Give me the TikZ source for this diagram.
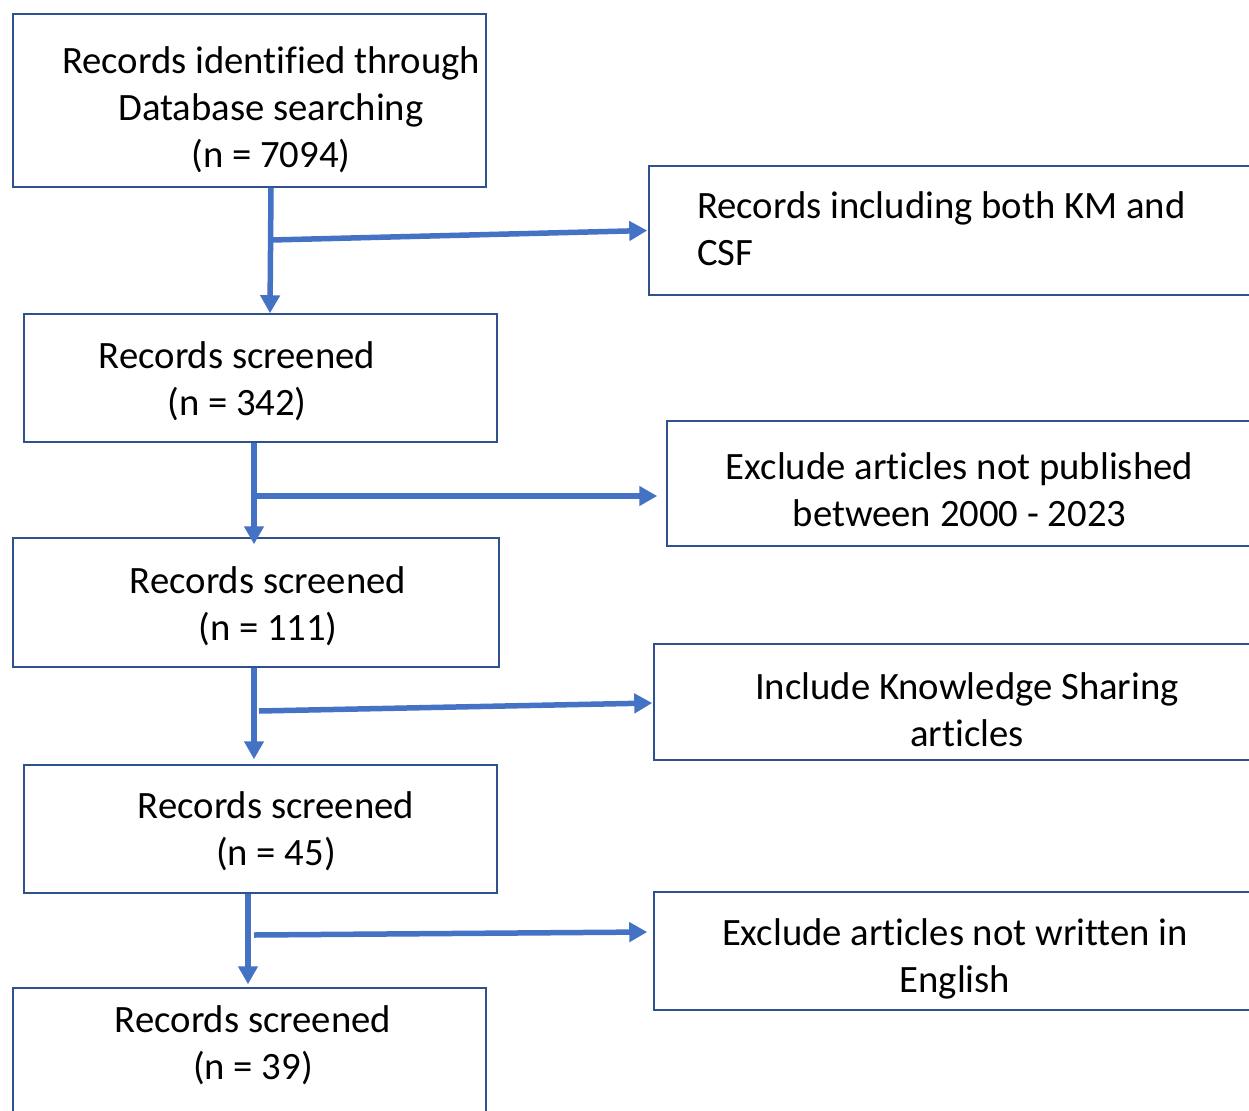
\documentclass[tikz,border=0pt]{standalone}
\usepackage{fontspec}
\setmainfont[Ligatures=CommonOff]{Carlito}
\usetikzlibrary{arrows.meta}
\definecolor{boxblue}{RGB}{47,82,143}
\definecolor{flowblue}{RGB}{68,114,196}
\tikzset{
  bx/.style={draw=boxblue, line width=1.5pt, inner sep=0pt},
  tx/.style={align=center, inner sep=0pt, font=\fontsize{38.7}{47}\selectfont},
  fa/.style={-{Triangle[length=18pt, width=19pt]}, flowblue, line width=5.5pt}
}
\begin{document}
\begin{tikzpicture}[x=1pt, y=-1pt]
  \clip (0,0) rectangle (1249,1110);
  % left column
  \node[bx, minimum width=473, minimum height=173] (ident) at (249.5,100.5) {};
  \node[bx, minimum width=473, minimum height=128] (scr1) at (260.5,378) {};
  \node[bx, minimum width=486, minimum height=129] (scr2) at (256,602.5) {};
  \node[bx, minimum width=473, minimum height=128] (scr3) at (260.5,829) {};
  \node[bx, minimum width=473, minimum height=152] (scr4) at (249.5,1064) {};
  % right column
  \node[bx, minimum width=651, minimum height=129] (r1) at (974.5,230.5) {};
  \node[bx, minimum width=633, minimum height=125] (r2) at (983.5,483.5) {};
  \node[bx, minimum width=646, minimum height=116] (r3) at (977,702) {};
  \node[bx, minimum width=646, minimum height=118] (r4) at (977,951) {};
  % texts
  \node[tx] (identtxt) at (271,110) {Records identified through\\Database searching\\(n = 7094)};
  \node[tx] (scr1txt) at (237,381.5) {Records screened\\(n = 342)};
  \node[tx] (scr2txt) at (268,606.5) {Records screened\\(n = 111)};
  \node[tx] (scr3txt) at (276,831.5) {Records screened\\(n = 45)};
  \node[tx] (scr4txt) at (253,1045.5) {Records screened\\(n = 39)};
  \node[tx, align=left, anchor=west] (r1txt) at (697,229) {Records including both KM and\\CSF};
  \node[tx] (r2txt) at (959.5,490) {Exclude articles not published\\between 2000 - 2023};
  \node[tx] (r3txt) at (967,709.5) {Include Knowledge Sharing\\articles};
  \node[tx] (r4txt) at (955,958.5) {Exclude articles not written in\\English};
  % branch points
  \coordinate (b1) at (272,240);
  \coordinate (b2) at (254,496);
  \coordinate (b3) at (259,711);
  \coordinate (b4) at (254,935);
  % flow
  \draw[fa] ([xshift=21.5]ident.south) -- ([xshift=9.5]scr1.north);
  \draw[fa] (b1) -- ([xshift=-1]r1.west);
  \draw[fa] ([xshift=-6.5]scr1.south) -- ([xshift=-2,yshift=-7]scr2.north);
  \draw[fa] (b2) -- ([xshift=-9,yshift=-12.5]r2.west);
  \draw[fa] ([xshift=-2]scr2.south) -- ([xshift=-6.5,yshift=5]scr3.north);
  \draw[fa] (b3) -- ([xshift=-1,yshift=-1]r3.west);
  \draw[fa] ([xshift=-12.5]scr3.south) -- ([xshift=-1.5,yshift=3]scr4.north);
  \draw[fa] (b4) -- ([xshift=-6,yshift=19]r4.west);
\end{tikzpicture}
\end{document}
